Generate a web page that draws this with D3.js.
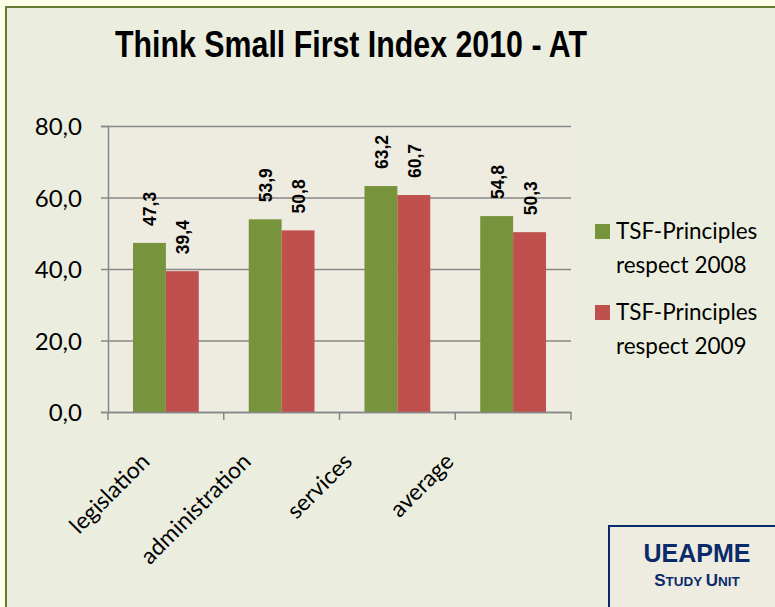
<!DOCTYPE html>
<html>
<head>
<meta charset="utf-8">
<style>
body { margin: 0; background: #fefee8; }
svg { display: block; }
.ylab { font: 24px Lato, sans-serif; fill: #000; }
.xlab { font: 23px Lato, sans-serif; fill: #000; }
.val { font: bold 19px "Liberation Sans", sans-serif; fill: #000; }
.leg { font: 22.5px Lato, sans-serif; fill: #000; }
</style>
</head>
<body>
<script src="https://cdn.jsdelivr.net/npm/d3@7"></script>
<script>
var categories = ["legislation", "administration", "services", "average"];
var series = ["TSF-Principles respect 2008", "TSF-Principles respect 2009"];
var values2008 = [47.3, 53.9, 63.2, 54.8];
var values2009 = [39.4, 50.8, 60.7, 50.3];
var yTicks = [0, 20, 40, 60, 80];
var colors = ["#77933c", "#c0504d"];

var width = 775, height = 607;
var margin = {left: 108, right: 204, top: 126, bottom: 195};

var svg = d3.select("body").append("svg")
    .attr("width", width)
    .attr("height", height);

// chart area
svg.append("rect")
    .attr("x", 6).attr("y", 7)
    .attr("width", width + 10).attr("height", height + 10)
    .attr("fill", "#ebeedf")
    .attr("stroke", "#627a32")
    .attr("stroke-width", 2);

svg.append("text")
    .attr("transform", "translate(351,57) scale(0.82,1)")
    .attr("text-anchor", "middle")
    .style("font", "bold 37px 'Liberation Sans', sans-serif")
    .text("Think Small First Index 2010 - AT");

var x0 = d3.scaleBand()
    .domain(categories)
    .range([margin.left, width - margin.right]);

var x1 = d3.scaleBand()
    .domain([0, 1])
    .range([0, x0.bandwidth()])
    .paddingInner(0)
    .paddingOuter(0.76);

// label anchors (Excel packs rotated labels a little tighter than the bands)
var xLab = d3.scalePoint()
    .domain(categories)
    .range([151, 455]);

var y = d3.scaleLinear()
    .domain([0, 80])
    .range([height - margin.bottom, margin.top]);

// plot background
svg.append("rect")
    .attr("x", margin.left).attr("y", margin.top)
    .attr("width", width - margin.right - margin.left)
    .attr("height", height - margin.bottom - margin.top)
    .attr("fill", "#eeebe0");

// grid
svg.append("g")
    .attr("transform", "translate(" + margin.left + ",0)")
    .call(d3.axisLeft(y).tickValues(yTicks)
        .tickSize(-(width - margin.right - margin.left)).tickFormat(""))
    .call(function(g) {
        g.select(".domain").remove();
        g.selectAll("line").attr("stroke", "#878787").attr("stroke-width", 1.5);
    });

// y axis
var yAxis = svg.append("g")
    .attr("transform", "translate(" + margin.left + ",0)")
    .call(d3.axisLeft(y).tickValues(yTicks).tickSize(7).tickPadding(19)
        .tickFormat(function(d) { return d3.format(".1f")(d).replace(".", ","); }));
yAxis.select(".domain").attr("stroke", "#878787").attr("stroke-width", 1.5);
yAxis.selectAll("line").attr("stroke", "#878787").attr("stroke-width", 1.5);
yAxis.selectAll("text").attr("class", "ylab").attr("font-size", null).attr("font-family", null)
    .attr("dy", "0.36em");

var data = categories.map(function(c, i) {
    return {cat: c, vals: [values2008[i], values2009[i]]};
});

var groups = svg.append("g").selectAll("g")
    .data(data).enter().append("g")
    .attr("transform", function(d) { return "translate(" + x0(d.cat) + ",0)"; });

groups.selectAll("rect")
    .data(function(d) { return d.vals; })
    .enter().append("rect")
    .attr("x", function(d, i) { return x1(i); })
    .attr("y", function(d) { return y(d); })
    .attr("width", x1.bandwidth())
    .attr("height", function(d) { return y(0) - y(d); })
    .attr("fill", function(d, i) { return colors[i]; });

groups.selectAll("text")
    .data(function(d) { return d.vals; })
    .enter().append("text")
    .attr("class", "val")
    .attr("transform", function(d, i) {
        return "translate(" + (x1(i) + x1.bandwidth() / 2 + 7) + "," + (y(d) - 17) + ") rotate(-90) scale(0.92,1)";
    })
    .text(function(d) { return d3.format(".1f")(d).replace(".", ","); });

// x axis
var xAxis = svg.append("g")
    .attr("transform", "translate(0," + y(0) + ")")
    .call(d3.axisBottom(x0).tickSize(0).tickFormat(""));
xAxis.select(".domain").attr("stroke", "#878787").attr("stroke-width", 1.5);

var bounds = [margin.left].concat(categories.map(function(c) { return x0(c) + x0.bandwidth(); }));
xAxis.selectAll(".sep").data(bounds).enter().append("line")
    .attr("x1", function(d) { return d; }).attr("x2", function(d) { return d; })
    .attr("y1", 0).attr("y2", 8)
    .attr("stroke", "#878787").attr("stroke-width", 1.5);

xAxis.selectAll(".cl").data(categories).enter().append("text")
    .attr("class", "xlab")
    .attr("text-anchor", "end")
    .attr("transform", function(d) {
        return "translate(" + xLab(d) + ",51) rotate(-45)";
    })
    .text(function(d) { return d; });

// legend
var leg = svg.append("g").selectAll("g")
    .data(series).enter().append("g")
    .attr("transform", function(d, i) { return "translate(595," + (224 + i * 81) + ")"; });
leg.append("rect")
    .attr("width", 15).attr("height", 15)
    .attr("fill", function(d, i) { return colors[i]; });
leg.append("text")
    .attr("class", "leg")
    .attr("x", 21).attr("y", 14.5)
    .text("TSF-Principles");
leg.append("text")
    .attr("class", "leg")
    .attr("x", 21).attr("y", 48.5)
    .text(function(d) { return d.replace("TSF-Principles ", ""); });

// UEAPME box
svg.append("rect")
    .attr("x", 609).attr("y", 526)
    .attr("width", 200).attr("height", 100)
    .attr("fill", "#eeebe0")
    .attr("stroke", "#0b2a6a").attr("stroke-width", 2);
svg.append("text")
    .attr("x", 697).attr("y", 562)
    .attr("text-anchor", "middle")
    .style("font", "bold 25px 'Liberation Sans', sans-serif")
    .attr("fill", "#0b2a6a")
    .text("UEAPME");
var su = svg.append("text")
    .attr("x", 697).attr("y", 586)
    .attr("text-anchor", "middle")
    .style("font", "bold 17px 'Liberation Sans', sans-serif")
    .attr("fill", "#0b2a6a");
su.append("tspan").text("S");
su.append("tspan").style("font-size", "13.5px").text("TUDY ");
su.append("tspan").text("U");
su.append("tspan").style("font-size", "13.5px").text("NIT");
</script>
</body>
</html>
